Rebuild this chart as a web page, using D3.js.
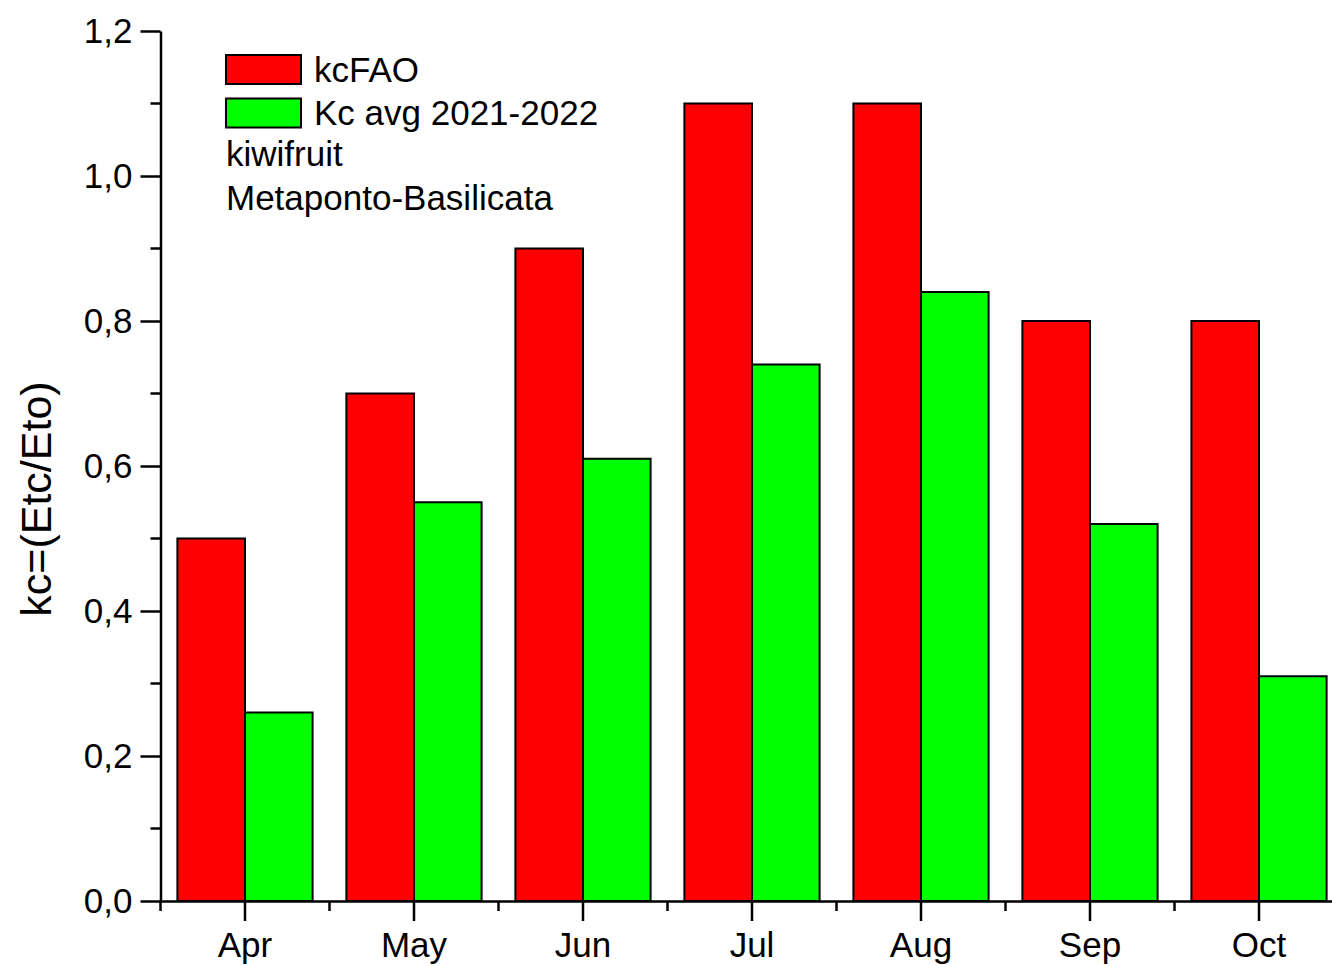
<!DOCTYPE html>
<html>
<head>
<meta charset="utf-8">
<script src="https://cdn.jsdelivr.net/npm/d3@7"></script>
<style>
  html, body { margin: 0; padding: 0; background: #fff; }
  svg { display: block; font-family: Arial, "Liberation Sans", sans-serif; }
</style>
</head>
<body>
<svg id="chart" width="1332" height="966"></svg>
<script>
// Monthly crop coefficients for kiwifruit
const months = ["Apr", "May", "Jun", "Jul", "Aug", "Sep", "Oct"];
const kcFAO = [0.5, 0.7, 0.9, 1.1, 1.1, 0.8, 0.8];
const kcAvg = [0.26, 0.55, 0.61, 0.74, 0.84, 0.52, 0.31];
const seriesNames = ["kcFAO", "Kc avg 2021-2022"];
const seriesColors = ["#ff0000", "#00ff00"];
const noteLines = ["kiwifruit", "Metaponto-Basilicata"];
const yMajorTicks = [0, 0.2, 0.4, 0.6, 0.8, 1.0, 1.2];
const yMinorTicks = [0.1, 0.3, 0.5, 0.7, 0.9, 1.1];
const yTitle = "kc=(Etc/Eto)";

const svg = d3.select("#chart");
const plotLeft = 160.5, plotTop = 31, plotBottom = 901;
const fontSize = 35;

const x = d3.scaleBand().domain(months)
  .range([plotLeft, plotLeft + 169 * 7])
  .paddingInner(0.2).paddingOuter(0.1);
const y = d3.scaleLinear().domain([0, 1.2]).range([plotBottom, plotTop]);

const barW = x.bandwidth() / 2;
const center = m => x(m) + x.bandwidth() / 2;

// Bars
const g = svg.append("g");
[kcFAO, kcAvg].forEach((vals, si) => {
  g.selectAll(null).data(months).enter().append("rect")
    .attr("x", (m) => center(m) - barW + si * barW)
    .attr("y", (m, i) => y(vals[i]))
    .attr("width", barW)
    .attr("height", (m, i) => y(0) - y(vals[i]))
    .attr("fill", seriesColors[si])
    .attr("stroke", "#000")
    .attr("stroke-width", 2);
});

const fmt = d => d.toFixed(1).replace(".", ",");

// Y axis
const yAxis = svg.append("g")
  .attr("transform", `translate(${plotLeft},0)`)
  .call(d3.axisLeft(y).tickValues(yMajorTicks).tickFormat(fmt)
    .tickSize(20).tickSizeOuter(0).tickPadding(8));
yAxis.selectAll(null).data(yMinorTicks).enter().append("line")
  .attr("class", "minor")
  .attr("x1", 0).attr("x2", -10)
  .attr("y1", d => y(d)).attr("y2", d => y(d));

// X axis
const xAxis = svg.append("g")
  .attr("transform", `translate(0,${plotBottom})`)
  .call(d3.axisBottom(x).tickSize(20).tickSizeOuter(0).tickPadding(11));
const bounds = d3.range(months.length + 1).map(i => plotLeft + x.step() * i);
xAxis.selectAll(null).data(bounds).enter().append("line")
  .attr("class", "minor")
  .attr("x1", d => d).attr("x2", d => d)
  .attr("y1", 0).attr("y2", 10);

svg.selectAll(".domain, .tick line, line.minor")
  .attr("stroke", "#000").attr("stroke-width", 2.5);
svg.selectAll(".tick text")
  .attr("fill", "#000").style("font-size", fontSize + "px")
  .style("font-family", "Arial, 'Liberation Sans', sans-serif");

// Y title
svg.append("text")
  .attr("transform", `translate(51,499) rotate(-90)`)
  .attr("text-anchor", "middle")
  .style("font-size", "43px")
  .text(yTitle);

// Legend
const legend = svg.append("g");
seriesNames.forEach((name, i) => {
  legend.append("rect")
    .attr("x", 226).attr("y", 55 + i * 43.5)
    .attr("width", 75).attr("height", 29)
    .attr("fill", seriesColors[i]).attr("stroke", "#000").attr("stroke-width", 2);
  legend.append("text")
    .attr("x", 314).attr("y", 82 + i * 43)
    .style("font-size", fontSize + "px")
    .text(name);
});
noteLines.forEach((t, i) => {
  legend.append("text")
    .attr("x", 226).attr("y", 166 + i * 44)
    .style("font-size", fontSize + "px")
    .text(t);
});
</script>
</body>
</html>
